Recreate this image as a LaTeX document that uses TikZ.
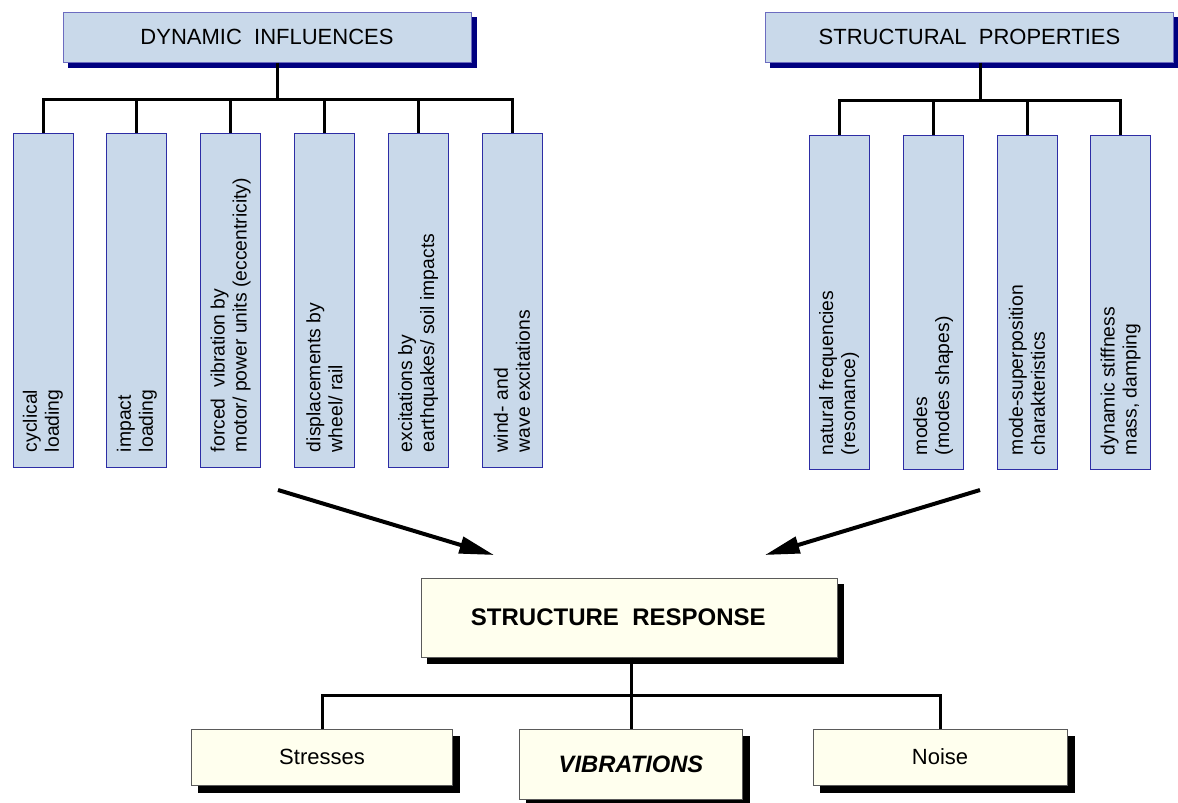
\documentclass[tikz,border=0pt]{standalone}
\usepackage{fontspec}
\setmainfont{Liberation Sans}
\usetikzlibrary{calc}
\usetikzlibrary{arrows.meta}
\usetikzlibrary{backgrounds}
\tikzset{every picture/.style={line width=0.75pt}}
\definecolor{boxblue}{RGB}{201,217,234}
\definecolor{lineblue}{RGB}{45,45,165}
\definecolor{navyshadow}{RGB}{0,0,128}
\definecolor{cream}{RGB}{255,255,238}
\definecolor{framegray}{RGB}{90,90,90}
\tikzset{
  headbox/.style={draw=lineblue!70, fill=boxblue, minimum width=306pt, minimum height=37.5pt, inner sep=0pt, font=\fontsize{16.5}{19}\selectfont},
  loadbox/.style={draw=lineblue, fill=boxblue, minimum width=45pt, minimum height=250.5pt, inner sep=0pt},
  sidetext/.style={rotate=90, anchor=west, align=left, inner sep=0pt, font=\fontsize{14.5}{16.5}\selectfont},
  resbox/.style={draw=framegray, fill=cream, inner sep=0pt},
  tree/.style={line width=2.25pt},
  bigarrow/.style={line width=3pt, -{Triangle[length=26pt,width=12.5pt]}},
}

\begin{document}
\begin{tikzpicture}[x=0.75pt,y=0.75pt,yscale=-1,xscale=1]
\useasboundingbox (0,0) rectangle (1178,803);

%Shape: Rectangle [headers]
\node[headbox] (hdrL) at (267,37) {DYNAMIC\ \ INFLUENCES};
\node[headbox] (hdrR) at (969.5,37) {STRUCTURAL\ \ PROPERTIES};

%Shape: Rectangle [dynamic influences]
\node[loadbox] (L1) at (43,300) {};
\node[loadbox] (L2) at (136.8,300) {};
\node[loadbox] (L3) at (230.6,300) {};
\node[loadbox] (L4) at (324.4,300) {};
\node[loadbox] (L5) at (418.2,300) {};
\node[loadbox] (L6) at (512,300) {};

% Text Node
\node[sidetext] (tL1) at ($(L1.south)+(0,-15)$) {cyclical\\loading};
\node[sidetext] (tL2) at ($(L2.south)+(0,-15)$) {impact\\loading};
\node[sidetext] (tL3) at ($(L3.south)+(0,-15)$) {forced\ \ vibration by\\motor/ power units (eccentricity)};
\node[sidetext] (tL4) at ($(L4.south)+(0,-15)$) {displacements by\\wheel/ rail};
\node[sidetext] (tL5) at ($(L5.south)+(0,-15)$) {excitations by\\earthquakes/ soil impacts};
\node[sidetext] (tL6) at ($(L6.south)+(0,-15)$) {wind- and\\wave excitations};

%Shape: Rectangle [structural properties]
\node[loadbox] (R1) at (839,302) {};
\node[loadbox] (R2) at (933,302) {};
\node[loadbox] (R3) at (1027,302) {};
\node[loadbox] (R4) at (1120.7,302) {};

% Text Node
\node[sidetext] (tR1) at ($(R1.south)+(0,-14)$) {natural frequencies\\(resonance)};
\node[sidetext] (tR2) at ($(R2.south)+(0,-14)$) {modes\\(modes shapes)};
\node[sidetext] (tR3) at ($(R3.south)+(0,-14)$) {mode-superposition\\charakteristics};
\node[sidetext] (tR4) at ($(R4.south)+(0,-14)$) {dynamic stiffness\\mass, damping};

%Shape: Rectangle [response]
\node[resbox, minimum width=312pt, minimum height=59.25pt, font=\fontsize{18}{21}\selectfont\bfseries] (sr) at (629,617.5) {\hspace*{-16pt}STRUCTURE\ \ RESPONSE};
\node[resbox, minimum width=195.75pt, minimum height=42pt, font=\fontsize{16.5}{19}\selectfont] (str) at (322,757) {Stresses};
\node[resbox, minimum width=167.25pt, minimum height=52.5pt, font=\fontsize{17.8}{20}\selectfont\bfseries\itshape] (vib) at (631,764) {VIBRATIONS};
\node[resbox, minimum width=190.5pt, minimum height=42pt, font=\fontsize{16.5}{19}\selectfont] (noi) at (940,757) {Noise};

%Shadows
\begin{scope}[on background layer]
\fill[navyshadow] ($(hdrL.south west)+(5,5)$) rectangle ($(hdrL.north east)+(5,5)$);
\fill[navyshadow] ($(hdrR.south west)+(5,5)$) rectangle ($(hdrR.north east)+(5,5)$);
\fill[black] ($(sr.south west)+(6,6)$) rectangle ($(sr.north east)+(6,6)$);
\fill[black] ($(str.south west)+(7,7)$) rectangle ($(str.north east)+(7,7)$);
\fill[black] ($(vib.south west)+(7,7)$) rectangle ($(vib.north east)+(7,7)$);
\fill[black] ($(noi.south west)+(7,7)$) rectangle ($(noi.north east)+(7,7)$);
\end{scope}

%Straight Lines [trees]
\coordinate (busL) at (277.5,99.5);
\coordinate (busR) at (980,100);
\coordinate (busB) at (631,695);
\draw[tree] (hdrL.south -| busL) -- (busL);
\foreach \i in {1,...,6} \draw[tree] (L\i.north) |- (busL);
\draw[tree] (hdrR.south -| busR) -- (busR);
\foreach \i in {1,...,4} \draw[tree] (R\i.north) |- (busR);
\draw[tree] (sr.south -| busB) -- (vib.north -| busB);
\draw[tree] (str.north) |- (busB);
\draw[tree] (noi.north) |- (busB);

%Straight Lines [arrows]
\coordinate (dynOut) at (278,490);
\coordinate (propOut) at (980,490);
\coordinate (srInL) at (494,555);
\coordinate (srInR) at (765,555);
\draw[bigarrow] (dynOut) -- (srInL);
\draw[bigarrow] (propOut) -- (srInR);

\end{tikzpicture}
\end{document}
